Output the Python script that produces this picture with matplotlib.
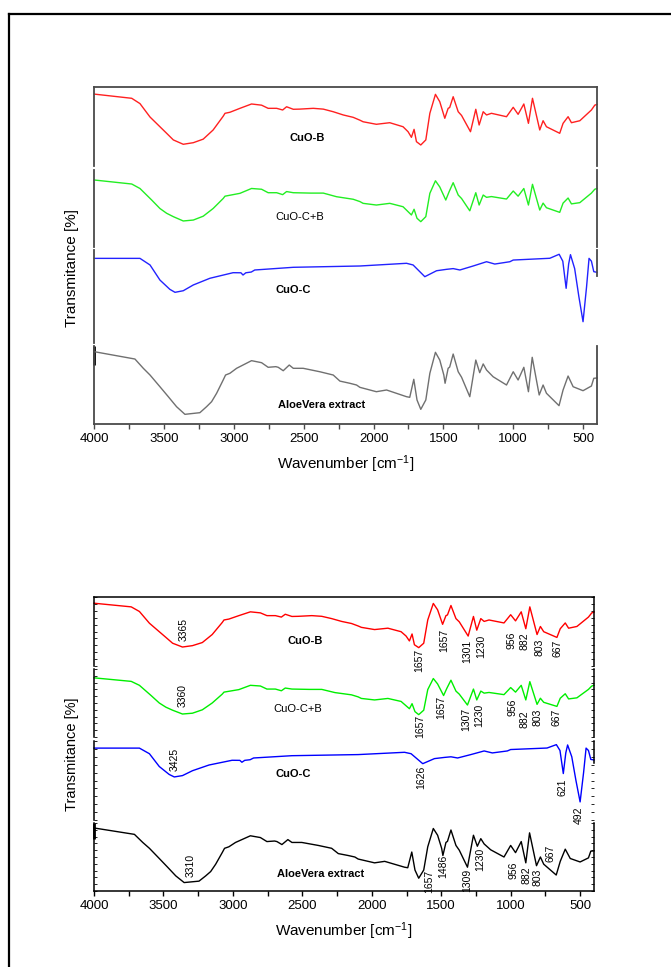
import matplotlib
matplotlib.use("Agg")
import matplotlib.pyplot as plt
from matplotlib.lines import Line2D
from matplotlib.ticker import MultipleLocator, NullFormatter

plt.rcParams['font.family'] = ['Liberation Sans', 'DejaVu Sans']
plt.rcParams['mathtext.fontset'] = 'custom'
plt.rcParams['mathtext.rm'] = 'Liberation Sans'
plt.rcParams['mathtext.it'] = 'Liberation Sans:italic'
plt.rcParams['mathtext.bf'] = 'Liberation Sans:bold'

W, H = 671, 967

# ---- spectra (wavenumber in cm-1, relative transmittance inside each layer) ----
wn_cuo_b = [4000, 3732, 3673, 3601, 3530, 3482, 3434, 3363, 3291, 3220, 3149, 3077, 3064, 3029,
            2957, 2874, 2802, 2755, 2694, 2651, 2623, 2575, 2530, 2432, 2360, 2289, 2217, 2146,
            2098, 2075, 1980, 1884, 1789, 1753, 1729, 1710, 1693, 1662, 1626, 1597, 1557, 1526,
            1490, 1466, 1455, 1430, 1394, 1370, 1306, 1268, 1244, 1215, 1191, 1156, 1048, 1000,
            965, 924, 891, 862, 810, 786, 762, 667, 643, 607, 583, 523, 440, 416, 400]
t_cuo_b = [91, 85.7, 79, 62, 49.7, 41.4, 33, 27.5, 29.5, 34, 45.6, 63, 66.7, 68,
           73, 78.5, 77, 73, 73, 70.9, 75, 71.8, 72, 73, 72, 68.7, 64.6, 61.6,
           58, 56, 52.8, 54.8, 49.7, 43.4, 36.3, 46.4, 30.8, 26.6, 33, 66.7, 90.7, 81.4,
           60.4, 73, 74, 87.7, 68.7, 64, 43.4, 71.8, 51.9, 68.7, 64.6, 66.7, 62.4, 74.3,
           65.4, 78.5, 54, 85.7, 45.6, 57.3, 49.7, 41.4, 54, 62.4, 54.8, 57.3, 70.9, 77, 78]

wn_cuo_cb = [4000, 3732, 3673, 3589, 3530, 3482, 3434, 3363, 3291, 3220, 3149, 3077, 3064, 2957,
             2874, 2802, 2755, 2694, 2651, 2623, 2575, 2450, 2360, 2265, 2146, 2098, 2075, 1980,
             1884, 1789, 1729, 1710, 1689, 1662, 1626, 1597, 1557, 1526, 1483, 1459, 1430, 1394,
             1370, 1311, 1268, 1244, 1215, 1191, 1156, 1048, 1000, 965, 924, 891, 862, 810,
             786, 762, 667, 643, 607, 583, 523, 440, 416, 400]
t_cuo_cb = [87, 81.8, 76, 61, 50, 43.8, 39.4, 33.8, 35, 40, 50, 63, 66, 69.7,
            76, 75, 70.5, 70.5, 68, 72, 70.5, 70, 70, 65.3, 62, 59, 56.7, 54.5,
            56.7, 52.3, 41.6, 49, 37.3, 32.9, 39.4, 69.7, 86, 78, 61, 71.8, 83.5, 67.5,
            63, 47, 70.5, 54.5, 67.5, 64.5, 65.5, 62.3, 72.7, 66, 76, 54.5, 81.4, 48,
            57, 51, 45, 57, 63.6, 56, 57.6, 70, 75, 76]

wn_cuo_c = [4000, 3673, 3601, 3530, 3459, 3422, 3363, 3291, 3172, 3006, 2950, 2935, 2915, 2876,
            2851, 2575, 2098, 1764, 1717, 1633, 1549, 1478, 1430, 1382, 1287, 1191, 1132, 1024,
            1000, 738, 671, 645, 621, 603, 590, 560, 530, 500, 475, 457, 440, 423, 400]
t_cuo_c = [91, 91, 83.9, 67.7, 57.7, 54.5, 56.2, 62.4, 69.6, 75.6, 75.5, 73.1, 75.5, 76.3,
           78.5, 81.4, 82.8, 85.7, 83.9, 71.3, 77.7, 79.2, 80, 78.5, 82.8, 87.4, 84.9, 87.4,
           89.2, 91.1, 95.4, 88, 58.8, 85, 95, 80, 50, 22.9, 60, 91, 88, 76.7, 76]

wn_aloe = [4000, 3709, 3649, 3601, 3530, 3470, 3411, 3351, 3244, 3196, 3160, 3124, 3077, 3060,
           3029, 2981, 2874, 2802, 2755, 2700, 2683, 2647, 2604, 2575, 2504, 2385, 2289, 2241,
           2170, 2122, 2098, 1980, 1907, 1764, 1741, 1712, 1689, 1662, 1626, 1597, 1557, 1526,
           1497, 1488, 1466, 1455, 1430, 1394, 1370, 1311, 1268, 1240, 1215, 1191, 1144, 1048,
           1000, 965, 924, 891, 864, 814, 786, 762, 672, 643, 607, 571, 500, 440, 423, 400]
t_aloe = [92.7, 83.3, 71.4, 62.8, 47.8, 35, 22.2, 12.4, 14.5, 22.2, 28.6, 39.4, 56.4, 62.8,
          65, 71.4, 81.2, 78.6, 72.7, 73.5, 72.7, 68.3, 75.6, 71.4, 71.4, 67, 62.8, 55,
          52.2, 50, 47, 41.4, 43.6, 35, 34.2, 57.3, 30.8, 18.8, 30.8, 65, 91.9, 82,
          62.8, 52.2, 71.4, 73, 89.7, 67, 60, 35, 82, 65.8, 77, 69.2, 60.6, 50,
          67, 56.4, 72.7, 41.4, 85.5, 37.2, 50, 39.4, 23.5, 43.6, 61.5, 47.8, 42.7, 48.7, 58.6, 59]

sample_names = ['CuO-B', 'CuO-C+B', 'CuO-C', 'AloeVera extract']
sample_bold = [True, False, True, True]

# peak labels of the lower panel
peaks_cuo_b = ['3365', '1657', '1657', '1301', '1230', '956', '882', '803', '667']
peaks_cuo_cb = ['3360', '1657', '1657', '1307', '1230', '956', '882', '803', '667']
peaks_cuo_c = ['3425', '1626', '621', '492']
peaks_aloe = ['3310', '1657', '1486', '1309', '1230', '956', '882', '803', '667']

spectra = [(wn_cuo_b, t_cuo_b), (wn_cuo_cb, t_cuo_cb), (wn_cuo_c, t_cuo_c), (wn_aloe, t_aloe)]
peaks = [peaks_cuo_b, peaks_cuo_cb, peaks_cuo_c, peaks_aloe]

# where the peak labels sit (wavenumber, level inside the layer)
peak_pos = [
    [(3353, 53.6), (1655, 8.7), (1482, 37.7), (1312, 21.7), (1211, 29), (991, 37.7), (904, 36.2), (791, 27.5), (660, 26)],
    [(3362, 60.3), (1650, 16.2), (1499, 44.1), (1319, 26.5), (1223, 32.4), (988, 44.1), (899, 26.5), (804, 29.4), (671, 29.4)],
    [(3417, 77.2), (1642, 54.4), (628, 41.8), (509, 6.3)],
    [(3304, 38.2), (1583, 14.7), (1487, 36.8), (1312, 16.2), (1218, 47), (978, 30.9), (883, 23.5), (804, 20.6), (714, 55.9)],
]
name_pos_top = [(2477, 35.4), (2527, 39), (2578, 57), (2374, 24.4)]
name_pos_bot = [(2482, 36), (2532, 41), (2568, 58), (2370, 25)]


def make_panel(fig, x0, x1, rows, spine_col, spine_w, yticks):
    axes = []
    n = len(rows)
    for i, (top, bot) in enumerate(rows):
        ax = fig.add_axes([x0 / W, 1 - bot / H, (x1 - x0) / W, (bot - top) / H])
        ax.set_facecolor('none')
        ax.set_xlim(4000, 400)
        ax.set_ylim(0, 100)
        for side in ['left', 'right', 'top', 'bottom']:
            ax.spines[side].set_color(spine_col)
            ax.spines[side].set_linewidth(spine_w)
        ax.spines['top'].set_visible(i == 0)
        ax.spines['bottom'].set_visible(i == n - 1)
        if i == 2:
            ax.spines['right'].set_bounds(72, 100)
        ax.xaxis.set_major_locator(MultipleLocator(500))
        ax.xaxis.set_minor_locator(MultipleLocator(250))
        if i == n - 1:
            ax.tick_params(axis='x', which='both', length=3.5, width=1, color=spine_col,
                           labelsize=9.5, pad=3)
            ax.xaxis.set_minor_formatter(NullFormatter())
        else:
            ax.tick_params(axis='x', which='both', bottom=False, labelbottom=False)
        if yticks:
            ax.yaxis.set_major_locator(MultipleLocator(10))
            ax.tick_params(axis='y', which='both', left=True, right=True, direction='in',
                           length=2, width=0.6, labelleft=False)
        else:
            ax.set_yticks([])
        axes.append(ax)
    # thick mark at the top of the extract layer
    axes[-1].plot([4000, 4000], [76, 100], color='black', lw=2, solid_capstyle='butt', clip_on=False)
    return axes


fig = plt.figure(figsize=(W / 100, H / 100), dpi=100)

# page frame (left and top lines)
fig.add_artist(Line2D([9 / W, 9 / W], [0, 1 - 14 / H], transform=fig.transFigure, color='black', lw=1.6))
fig.add_artist(Line2D([9 / W, 1], [1 - 14 / H, 1 - 14 / H], transform=fig.transFigure, color='black', lw=1.6))

colors_top = ['#ff2020', '#22ee22', '#2222ff', '#707070']
colors_bot = ['#ff0000', '#00ee00', '#0000ff', '#000000']

top_axes = make_panel(fig, 94.3, 597, [(87, 166), (170, 247), (250, 343), (346, 424)], '#4a4a4a', 1.3, False)
bot_axes = make_panel(fig, 94, 594, [(597, 666), (669, 737), (741, 820), (823, 891)], 'black', 1.1, True)

for i, ax in enumerate(top_axes):
    wn, t = spectra[i]
    ax.plot(wn, t, color=colors_top[i], lw=1.0, clip_on=False)
    ax.text(*name_pos_top[i], sample_names[i], ha='center', va='center', fontsize=8,
            fontweight='bold' if sample_bold[i] else 'normal')

for i, ax in enumerate(bot_axes):
    wn, t = spectra[i]
    ax.plot(wn, t, color=colors_bot[i], lw=1.0, clip_on=False)
    ax.text(*name_pos_bot[i], sample_names[i], ha='center', va='center', fontsize=8,
            fontweight='bold' if sample_bold[i] else 'normal')
    for lab, (px, py) in zip(peaks[i], peak_pos[i]):
        ax.text(px, py, lab, rotation=90, ha='center', va='center', fontsize=7.5)

for ax in (top_axes[-1], bot_axes[-1]):
    ax.set_xlabel('Wavenumber [cm$^{-1}$]', fontsize=11, labelpad=6)

fig.text(72 / W, 1 - 268 / H, 'Transmitance [%]', rotation=90, ha='center', va='center', fontsize=11)
fig.text(72 / W, 1 - 754 / H, 'Transmitance [%]', rotation=90, ha='center', va='center', fontsize=10.5)

fig.savefig('out.png', dpi=100)
